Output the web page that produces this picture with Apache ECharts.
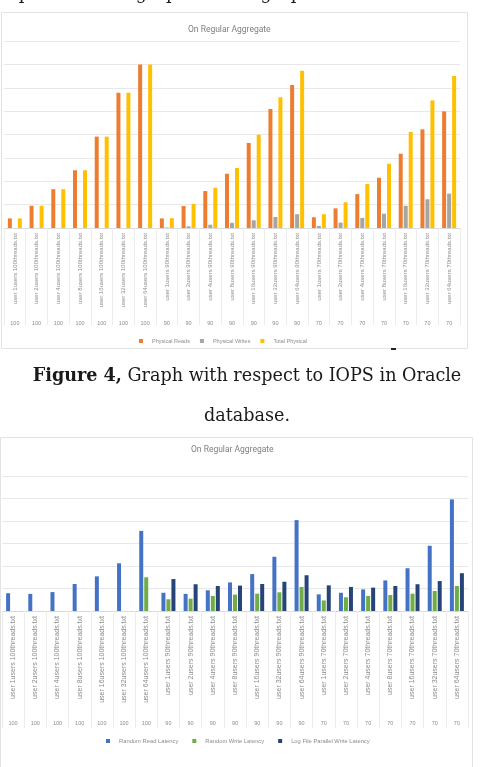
<!DOCTYPE html>
<html>
<head>
<meta charset="utf-8">
<script src="https://cdn.jsdelivr.net/npm/echarts@6/dist/echarts.min.js"></script>
<style>
  html, body { margin: 0; padding: 0; background: #fff; }
  #page { width: 481px; height: 767px; }
</style>
</head>
<body>
<div id="page"></div>
<script>
// category labels (two level axis, same for both charts)
var userLabels = [
  "user 1users 100threads.txt", "user 2users 100threads.txt", "user 4users 100threads.txt",
  "user 8users 100threads.txt", "user 16users 100threads.txt", "user 32users 100threads.txt",
  "user 64users 100threads.txt",
  "user 1users 90threads.txt", "user 2users 90threads.txt", "user 4users 90threads.txt",
  "user 8users 90threads.txt", "user 16users 90threads.txt", "user 32users 90threads.txt",
  "user 64users 90threads.txt",
  "user 1users 70threads.txt", "user 2users 70threads.txt", "user 4users 70threads.txt",
  "user 8users 70threads.txt", "user 16users 70threads.txt", "user 32users 70threads.txt",
  "user 64users 70threads.txt"
];
var readPct = ["100", "100", "100", "100", "100", "100", "100",
  "90", "90", "90", "90", "90", "90", "90",
  "70", "70", "70", "70", "70", "70", "70"];

// figure 4 - IOPS
var physicalReads = [0.41, 0.95, 1.66, 2.47, 3.91, 5.79, 7.0,
  0.41, 0.94, 1.58, 2.32, 3.64, 5.09, 6.12,
  0.46, 0.84, 1.45, 2.15, 3.18, 4.22, 4.99];
var physicalWrites = [0, 0, 0, 0, 0, 0, 0,
  0.02, 0.07, 0.14, 0.22, 0.33, 0.47, 0.59,
  0.09, 0.23, 0.43, 0.61, 0.95, 1.23, 1.47];
var totalPhysical = [0.41, 0.95, 1.66, 2.47, 3.91, 5.79, 7.0,
  0.42, 1.03, 1.72, 2.57, 3.99, 5.59, 6.73,
  0.59, 1.1, 1.88, 2.75, 4.11, 5.46, 6.5];

// second chart - latency
var randomReadLatency = [0.79, 0.76, 0.84, 1.2, 1.54, 2.12, 3.56,
  0.81, 0.76, 0.92, 1.27, 1.64, 2.41, 4.04,
  0.74, 0.81, 0.96, 1.36, 1.9, 2.9, 4.96];
var randomWriteLatency = [0, 0, 0, 0, 0, 0, 1.5,
  0.52, 0.55, 0.67, 0.73, 0.77, 0.83, 1.07,
  0.47, 0.61, 0.67, 0.71, 0.77, 0.89, 1.11];
var logFileLatency = [0, 0, 0, 0, 0, 0, 0,
  1.42, 1.19, 1.11, 1.13, 1.2, 1.3, 1.59,
  1.14, 1.07, 1.04, 1.11, 1.19, 1.33, 1.68];

var chart = echarts.init(document.getElementById("page"));

function catAxis(grid, tickLen, fontSize) {
  return {
    type: "category",
    gridIndex: grid,
    data: userLabels,
    axisLine: { lineStyle: { color: "#d9d9d9" } },
    axisTick: { show: true, length: tickLen, interval: 0, lineStyle: { color: "#ececec" } },
    axisLabel: { interval: 0, rotate: 90, fontSize: fontSize, color: "#8c8c8c", margin: 5 }
  };
}
function groupAxis(grid, offset) {
  return {
    type: "category",
    gridIndex: grid,
    data: readPct,
    position: "bottom",
    offset: offset,
    axisLine: { show: false },
    axisTick: { show: false },
    axisLabel: { interval: 0, fontSize: 5.5, color: "#8c8c8c" }
  };
}
function valAxis(grid, max) {
  return {
    type: "value",
    gridIndex: grid,
    min: 0,
    max: max,
    interval: 1,
    axisLabel: { show: false },
    axisLine: { show: false },
    axisTick: { show: false },
    splitLine: { lineStyle: { color: "#e8e8e8" } }
  };
}
function barSeries(name, data, color, idx) {
  return {
    name: name,
    type: "bar",
    xAxisIndex: idx * 2,
    yAxisIndex: idx,
    data: data,
    barWidth: 4,
    barGap: "25%",
    itemStyle: { color: color },
    animation: false
  };
}

var serif = "'DejaVu Serif'";

var option = {
  animation: false,
  title: [
    { text: "On Regular Aggregate", left: 183, top: 20,
      textStyle: { fontSize: 8.5, fontWeight: "normal", color: "#7f7f7f", fontFamily: "Roboto" } },
    { text: "On Regular Aggregate", left: 186, top: 440,
      textStyle: { fontSize: 8.5, fontWeight: "normal", color: "#7f7f7f", fontFamily: "Roboto" } }
  ],
  legend: [
    { data: ["Physical Reads", "Physical Writes", "Total Physical"],
      left: 134, top: 333, icon: "rect", itemWidth: 4, itemHeight: 4, itemGap: 10,
      textStyle: { fontSize: 5.5, color: "#8c8c8c", padding: [0, 0, 0, 4] } },
    { data: ["Random Read Latency", "Random Write Latency", "Log File Parallel Write Latency"],
      left: 101, top: 733, icon: "rect", itemWidth: 4, itemHeight: 4, itemGap: 14,
      textStyle: { fontSize: 5.8, color: "#8c8c8c", padding: [0, 0, 0, 4] } }
  ],
  grid: [
    { left: 4, right: 21, top: 41, height: 187 },
    { left: 2, right: 13, top: 476, height: 135 }
  ],
  xAxis: [
    catAxis(0, 97, 6), groupAxis(0, 84),
    catAxis(1, 117, 7), groupAxis(1, 101)
  ],
  yAxis: [valAxis(0, 8), valAxis(1, 6)],
  series: [
    barSeries("Physical Reads", physicalReads, "#ED7D31", 0),
    barSeries("Physical Writes", physicalWrites, "#A5A5A5", 0),
    barSeries("Total Physical", totalPhysical, "#FFC000", 0),
    barSeries("Random Read Latency", randomReadLatency, "#4472C4", 1),
    barSeries("Random Write Latency", randomWriteLatency, "#70AD47", 1),
    barSeries("Log File Parallel Write Latency", logFileLatency, "#264478", 1)
  ],
  graphic: [
    // chart frames
    { type: "rect", shape: { x: 1.5, y: 12.5, width: 466, height: 336 },
      style: { fill: null, stroke: "#e3e3e3", lineWidth: 1 }, silent: true },
    { type: "rect", shape: { x: 0.5, y: 437.5, width: 472, height: 340 },
      style: { fill: null, stroke: "#e3e3e3", lineWidth: 1 }, silent: true },
    { type: "rect", shape: { x: 391, y: 348, width: 5, height: 2 },
      style: { fill: "#222" }, silent: true },
    // page text
    { type: "text", x: 0, y: 3,
      style: { text: "represents the graph of histograph.", font: "17.6px " + serif,
        fill: "#1a1a1a", textVerticalAlign: "bottom" }, silent: true },
    { type: "text", x: 247, y: 376,
      style: { text: "{b|Figure 4,} Graph with respect to IOPS in Oracle",
        font: "17.6px " + serif, fill: "#1a1a1a",
        textAlign: "center", textVerticalAlign: "middle",
        rich: { b: { fontWeight: "bold", fontSize: 17.6, fontFamily: "DejaVu Serif" } } },
      silent: true },
    { type: "text", x: 247, y: 416,
      style: { text: "database.", font: "17.6px " + serif, fill: "#1a1a1a",
        textAlign: "center", textVerticalAlign: "middle" }, silent: true }
  ]
};
chart.setOption(option);
</script>
</body>
</html>
